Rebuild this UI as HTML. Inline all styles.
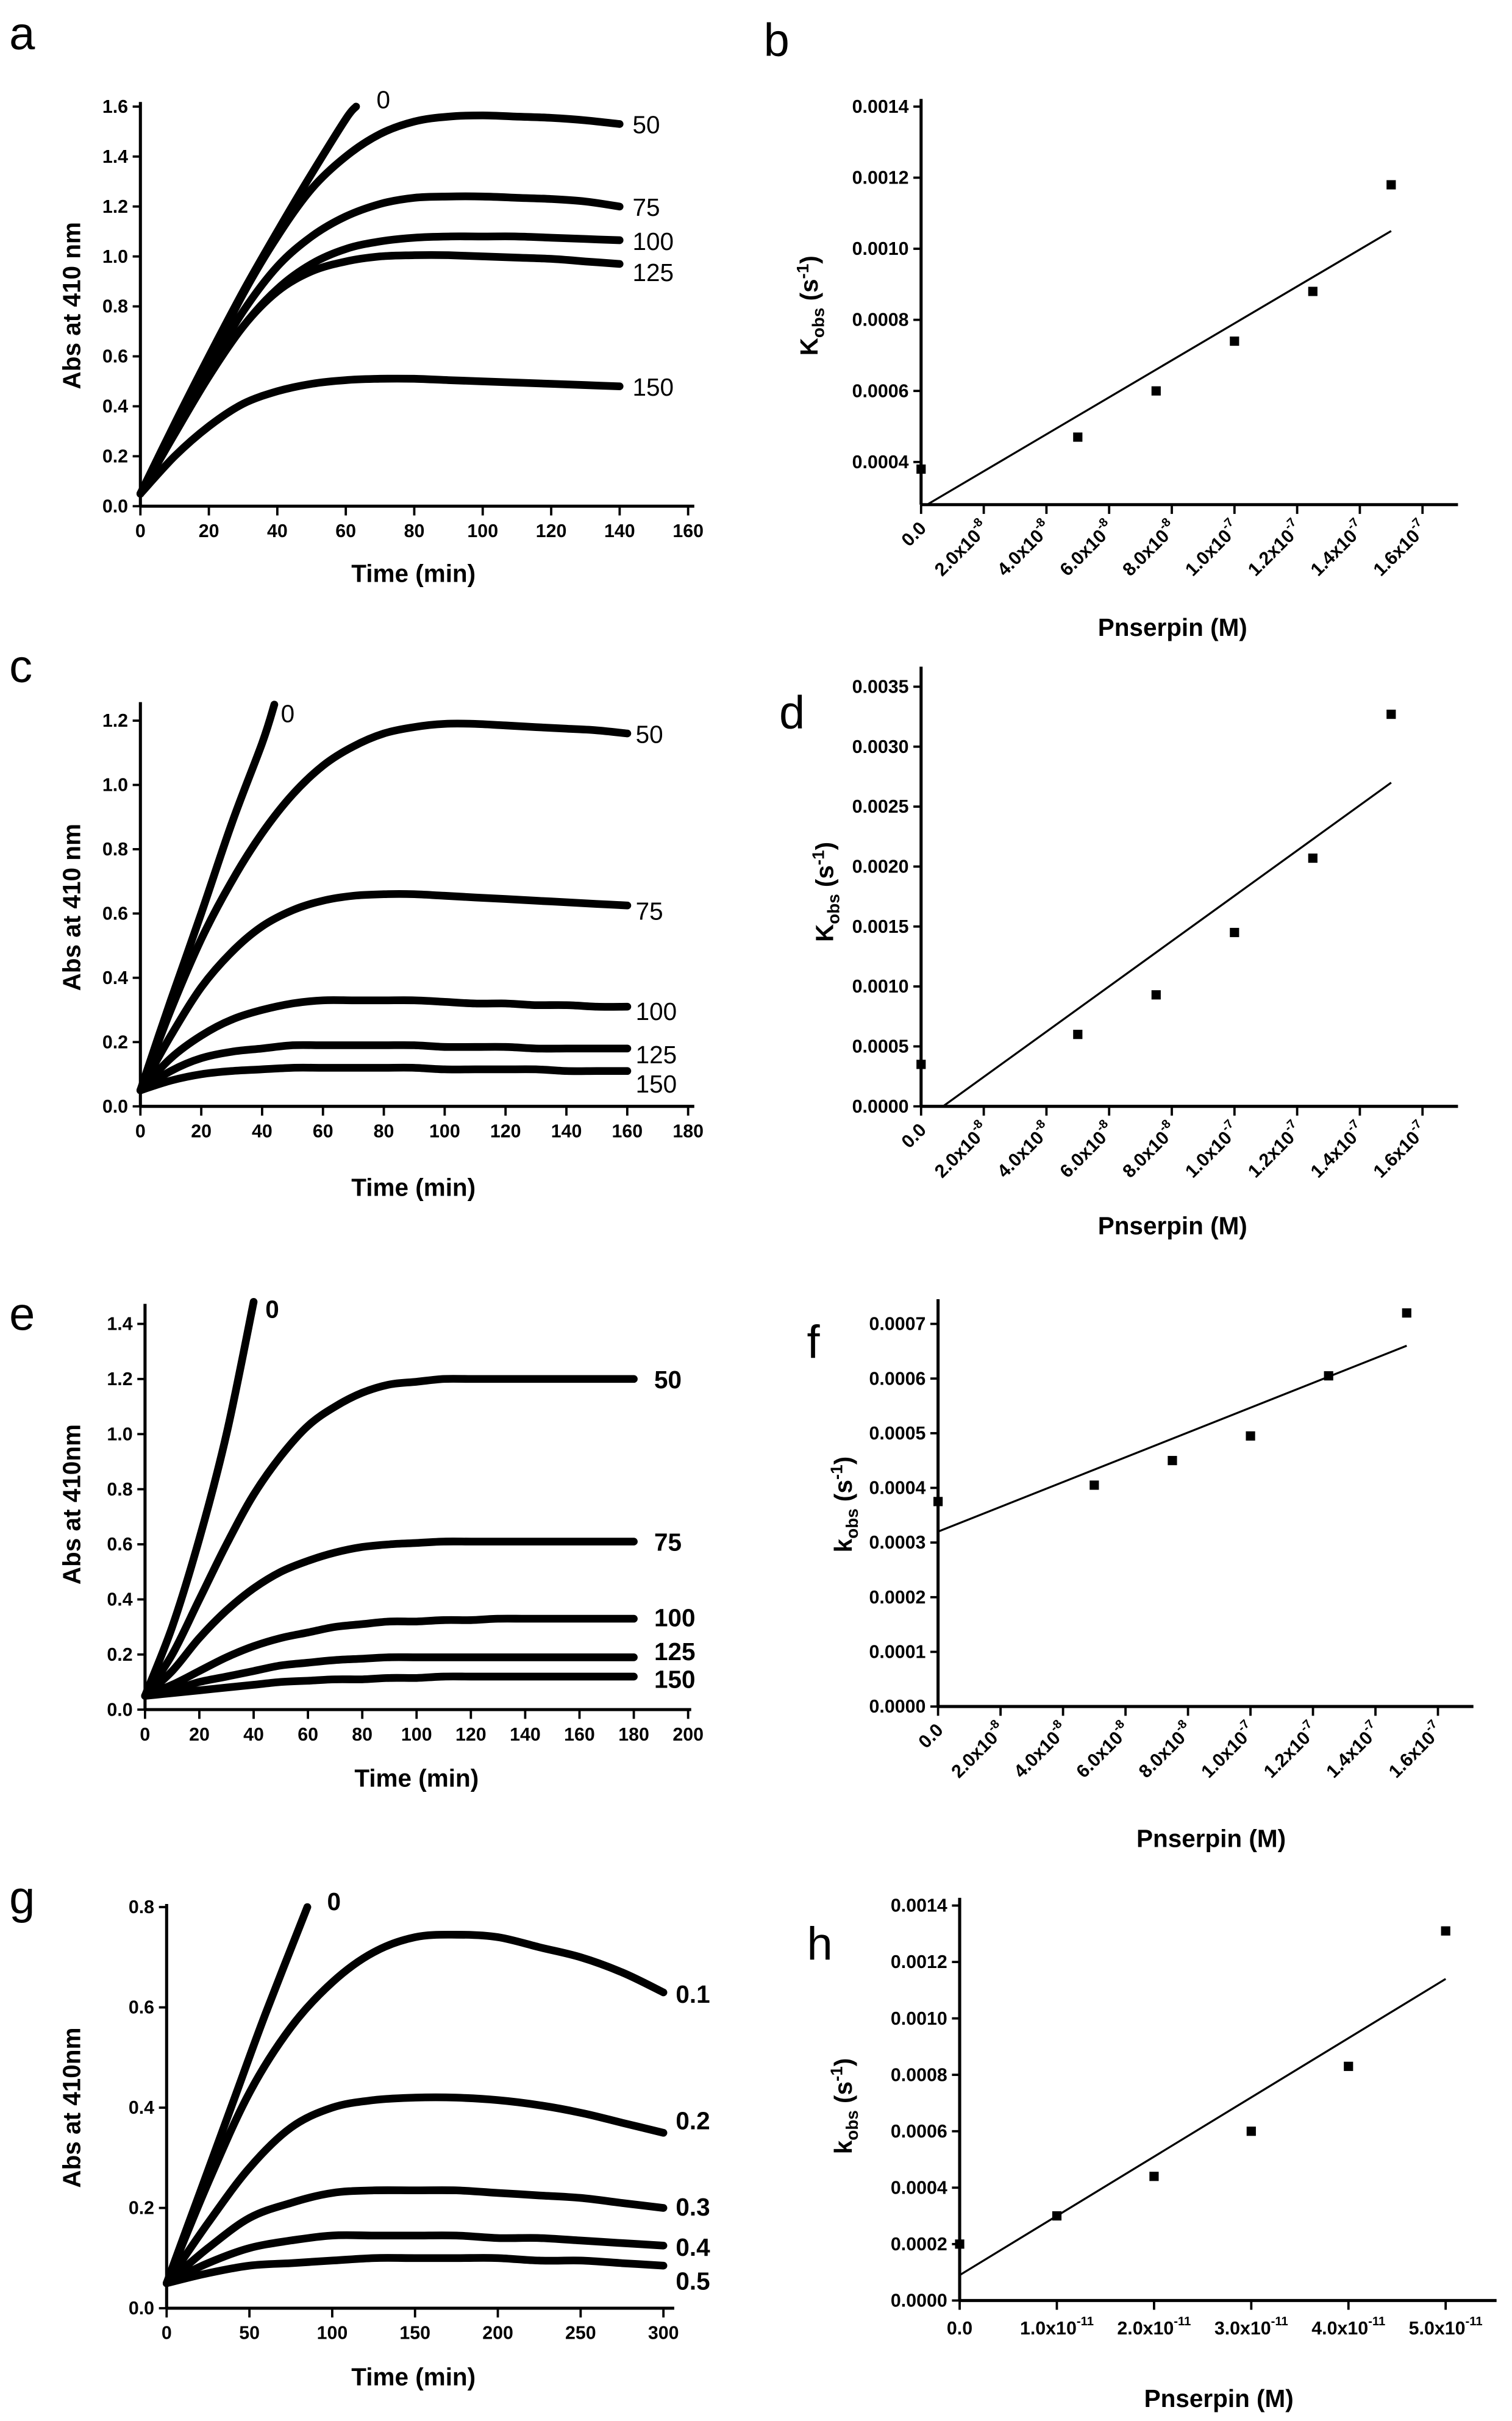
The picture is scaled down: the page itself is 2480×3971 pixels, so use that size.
<!DOCTYPE html>
<html><head><meta charset="utf-8"><style>
html,body{margin:0;padding:0;background:#fff}
svg{display:block}
text{font-family:"Liberation Sans",Arial,sans-serif;fill:#000}
.tk{font-size:12px;font-weight:bold}
.at{font-size:16px;font-weight:bold}
.pl{font-size:30px}
.cl{font-size:16px}
</style></head><body>
<svg id="fig" width="2480" height="3971" viewBox="0 0 980 1569" xmlns="http://www.w3.org/2000/svg"></svg>
<script>
// ---- Panel a data ----
const aTimes0=[0,10,20,30,40,50,60,63];
const a0=[0.05,0.33,0.6,0.86,1.1,1.33,1.55,1.6];
const aTimes=[0,10,20,30,40,50,60,70,80,90,100,110,120,130,140];
const a50=[0.05,0.3,0.58,0.85,1.08,1.27,1.4,1.49,1.54,1.56,1.565,1.56,1.555,1.545,1.53];
const a75=[0.05,0.3,0.55,0.78,0.96,1.08,1.16,1.21,1.235,1.24,1.24,1.235,1.23,1.22,1.2];
const a100=[0.05,0.29,0.52,0.72,0.87,0.97,1.03,1.06,1.075,1.08,1.08,1.08,1.075,1.07,1.065];
const a125=[0.05,0.29,0.52,0.72,0.86,0.94,0.98,1.0,1.005,1.005,1.0,0.995,0.99,0.98,0.97];
const a150=[0.05,0.2,0.32,0.41,0.46,0.49,0.505,0.51,0.51,0.505,0.5,0.495,0.49,0.485,0.48];
const aXTicks=[0,20,40,60,80,100,120,140,160];
const aYTicks=[0,0.2,0.4,0.6,0.8,1.0,1.2,1.4,1.6];
// ---- Panel b data ----
const bX=[0,5e-8,7.5e-8,1e-7,1.25e-7,1.5e-7];
const bY=[0.00038,0.00047,0.0006,0.00074,0.00088,0.00118];
const bFit=[0.00027,5200];
const bYTicks=[0.0004,0.0006,0.0008,0.0010,0.0012,0.0014];
// ---- Panel c data ----
const cTimes0=[0,10,20,30,40,44];
const c0=[0.05,0.33,0.6,0.88,1.13,1.25];
const cTimes=[0,10,20,30,40,50,60,70,80,90,100,110,120,130,140,150,160];
const c50=[0.05,0.3,0.52,0.7,0.85,0.97,1.06,1.12,1.16,1.18,1.19,1.19,1.185,1.18,1.175,1.17,1.16];
const c75=[0.05,0.22,0.37,0.48,0.56,0.61,0.64,0.655,0.66,0.66,0.655,0.65,0.645,0.64,0.635,0.63,0.625];
const c100=[0.05,0.15,0.22,0.27,0.3,0.32,0.33,0.33,0.33,0.33,0.325,0.32,0.32,0.315,0.315,0.31,0.31];
const c125=[0.05,0.11,0.15,0.17,0.18,0.19,0.19,0.19,0.19,0.19,0.185,0.185,0.185,0.18,0.18,0.18,0.18];
const c150=[0.05,0.08,0.1,0.11,0.115,0.12,0.12,0.12,0.12,0.12,0.115,0.115,0.115,0.115,0.11,0.11,0.11];
const cXTicks=[0,20,40,60,80,100,120,140,160,180];
const cYTicks=[0,0.2,0.4,0.6,0.8,1.0,1.2];
// ---- Panel d data ----
const dX=[0,5e-8,7.5e-8,1e-7,1.25e-7,1.5e-7];
const dY=[0.00035,0.0006,0.00093,0.00145,0.00207,0.00327];
const dFit=[-0.000132,18880];
const dYTicks=[0,0.0005,0.0010,0.0015,0.0020,0.0025,0.0030,0.0035];
// ---- Panel e data ----
const eTimes0=[0,10,20,30,40];
const e0=[0.05,0.3,0.62,1.0,1.48];
const eTimes=[0,10,20,30,40,50,60,70,80,90,100,110,120,130,140,150,160,170,180];
const e50=[0.05,0.2,0.4,0.6,0.78,0.92,1.03,1.1,1.15,1.18,1.19,1.2,1.2,1.2,1.2,1.2,1.2,1.2,1.2];
const e75=[0.05,0.14,0.26,0.36,0.44,0.5,0.54,0.57,0.59,0.6,0.605,0.61,0.61,0.61,0.61,0.61,0.61,0.61,0.61];
const e100=[0.05,0.09,0.14,0.19,0.23,0.26,0.28,0.3,0.31,0.32,0.32,0.325,0.325,0.33,0.33,0.33,0.33,0.33,0.33];
const e125=[0.05,0.07,0.1,0.12,0.14,0.16,0.17,0.18,0.185,0.19,0.19,0.19,0.19,0.19,0.19,0.19,0.19,0.19,0.19];
const e150=[0.05,0.06,0.07,0.08,0.09,0.1,0.105,0.11,0.11,0.115,0.115,0.12,0.12,0.12,0.12,0.12,0.12,0.12,0.12];
const eXTicks=[0,20,40,60,80,100,120,140,160,180,200];
const eYTicks=[0,0.2,0.4,0.6,0.8,1.0,1.2,1.4];
// ---- Panel f data ----
const fX=[0,5e-8,7.5e-8,1e-7,1.25e-7,1.5e-7];
const fY=[0.000375,0.000405,0.00045,0.000495,0.000605,0.00072];
const fFit=[0.00032,2267];
const fYTicks=[0,0.0001,0.0002,0.0003,0.0004,0.0005,0.0006,0.0007];
// ---- Panel g data ----
const gTimes0=[0,20,40,60,85];
const g0=[0.05,0.23,0.41,0.59,0.8];
const gTimes=[0,25,50,75,100,125,150,175,200,225,250,275,300];
const g01=[0.05,0.25,0.43,0.56,0.65,0.71,0.74,0.745,0.74,0.72,0.7,0.67,0.63];
const g02=[0.05,0.17,0.28,0.36,0.4,0.415,0.42,0.42,0.415,0.405,0.39,0.37,0.35];
const g03=[0.05,0.12,0.18,0.21,0.23,0.235,0.235,0.235,0.23,0.225,0.22,0.21,0.2];
const g04=[0.05,0.09,0.12,0.135,0.145,0.145,0.145,0.145,0.14,0.14,0.135,0.13,0.125];
const g05=[0.05,0.07,0.085,0.09,0.095,0.1,0.1,0.1,0.1,0.095,0.095,0.09,0.085];
const gXTicks=[0,50,100,150,200,250,300];
const gYTicks=[0,0.2,0.4,0.6,0.8];
// ---- Panel h data ----
const hX=[0,1e-11,2e-11,3e-11,4e-11,5e-11];
const hY=[0.0002,0.0003,0.00044,0.0006,0.00083,0.00131];
const hFit=[0.00009,2.1e7];
const hYTicks=[0,0.0002,0.0004,0.0006,0.0008,0.0010,0.0012,0.0014];
const hXTicks=[0,1e-11,2e-11,3e-11,4e-11,5e-11];
const hXLabels=[['0.0'],['1.0x10','-11'],['2.0x10','-11'],['3.0x10','-11'],['4.0x10','-11'],['5.0x10','-11']];

const NS="http://www.w3.org/2000/svg";
const fig=document.getElementById('fig');
function mk(tag,attrs,parent,txt){const e=document.createElementNS(NS,tag);for(const k in attrs)e.setAttribute(k,attrs[k]);if(txt!==undefined)e.textContent=txt;(parent||fig).appendChild(e);return e;}
function scale(d0,d1,p0,p1){return v=>p0+(v-d0)*(p1-p0)/(d1-d0);}
function smooth(pts){
  let d='M'+pts[0][0].toFixed(1)+','+pts[0][1].toFixed(1);
  for(let i=0;i<pts.length-1;i++){
    const p0=pts[i-1]||pts[i],p1=pts[i],p2=pts[i+1],p3=pts[i+2]||p2;
    const c1=[p1[0]+(p2[0]-p0[0])/6,p1[1]+(p2[1]-p0[1])/6];
    const c2=[p2[0]-(p3[0]-p1[0])/6,p2[1]-(p3[1]-p1[1])/6];
    d+=`C${c1[0].toFixed(1)},${c1[1].toFixed(1)} ${c2[0].toFixed(1)},${c2[1].toFixed(1)} ${p2[0].toFixed(1)},${p2[1].toFixed(1)}`;
  }
  return d;
}

function axes(g,c){
  const xl=mk('line',{x1:c.px0,y1:c.py0,x2:c.axRight,y2:c.py0,stroke:'#000','stroke-width':2},g);
  
  const yl=mk('line',{x1:c.px0,y1:c.py0,x2:c.px0,y2:c.axTop,stroke:'#000','stroke-width':2},g);
  
  c.yTicks.forEach((v,i)=>{const y=c.sy(v);
    mk('line',{x1:c.px0-5,y1:y,x2:c.px0,y2:y,stroke:'#000','stroke-width':1.5},g);
    const t=mk('text',{x:c.px0-8,y:y+4,'text-anchor':'end',class:'tk'},g,c.yFmt(v));
    });
  c.xTicks.forEach((v,i)=>{const x=c.sx(v);
    mk('line',{x1:x,y1:c.py0,x2:x,y2:c.py0+6,stroke:'#000','stroke-width':1.5},g);
    let t;
    if(c.xLabs){
      if(c.rot) t=mk('text',{x:x+4,y:c.py0+16,'text-anchor':'end',class:'tk',transform:`rotate(-45 ${x+4} ${c.py0+16})`},g);
      else t=mk('text',{x:x,y:c.py0+22,'text-anchor':'middle',class:'tk','font-size':'11px'},g);
      const lab=c.xLabs[i];
      t.appendChild(document.createTextNode(lab[0]));
      if(lab[1]) mk('tspan',{'font-size':'8px',dy:-6},t,lab[1]);
    } else t=mk('text',{x:x,y:c.py0+20,'text-anchor':'middle',class:'tk'},g,String(v));
    });
  const xt=mk('text',{x:c.xtx,y:c.xty,'text-anchor':'middle',class:'at'},g,c.xTitle);
  
  const yt=mk('text',{x:c.ytx,y:c.yty,'text-anchor':'middle',class:'at',transform:`rotate(-90 ${c.ytx} ${c.yty})`},g);
  if(c.kobs){yt.appendChild(document.createTextNode(c.kobs));mk('tspan',{'font-size':'11px',dy:4},yt,'obs');mk('tspan',{dy:-4},yt,' (s');mk('tspan',{'font-size':'11px',dy:-6},yt,'-1');mk('tspan',{dy:6},yt,')');}
  else yt.textContent=c.yTitle;
  
  const pl=mk('text',{x:c.lx,y:c.ly,class:'pl'},g,c.letter);
  
}

function kinetic(c,series){
  const g=mk('g',{});
  c.sx=scale(c.xmin,c.xmax,c.px0,c.px1);c.sy=scale(c.ymin,c.ymax,c.py0,c.py1);
  c.yFmt=v=>v.toFixed(1);
  axes(g,c);
  series.forEach(s=>{
    const pts=s.t.map((t,i)=>[c.sx(t),c.sy(s.v[i])]);
    const p=mk('path',{d:smooth(pts),fill:'none',stroke:'#000','stroke-width':5,'stroke-linejoin':'round','stroke-linecap':'round'},g);
    
    const last=s.v.length-1;
    const lx=s.lx!==undefined?s.lx:c.sx(s.t[last])+10;
    const ly=(s.ly!==undefined?s.ly:c.sy(s.v[last]))+6;
    const t=mk('text',{x:lx,y:ly,class:'cl','font-weight':c.bold?'bold':'normal'},g,s.name);
    
  });
}

function kobs(c,xs,ys,fit){
  const g=mk('g',{});
  c.sx=scale(c.xmin,c.xmax,c.px0,c.px1);c.sy=scale(c.ymin,c.ymax,c.py0,c.py1);
  c.yFmt=v=>v.toFixed(4);
  axes(g,c);
  const cl=mk('clipPath',{id:'clip'+c.letter},g);
  mk('rect',{x:c.px0,y:c.axTop,width:c.axRight-c.px0,height:c.py0-c.axTop},cl);
  const f=v=>fit[0]+fit[1]*v;
  const fl=mk('line',{x1:c.sx(c.fx0),y1:c.sy(f(c.fx0)),x2:c.sx(c.fx1),y2:c.sy(f(c.fx1)),stroke:'#000','stroke-width':1.3,'clip-path':`url(#clip${c.letter})`},g);
  
  xs.forEach((x,i)=>{const r=mk('rect',{x:c.sx(x)-3,y:c.sy(ys[i])-3,width:6,height:6,fill:'#000'},g);
    });
}

const labs8=[['0.0'],['2.0x10','-8'],['4.0x10','-8'],['6.0x10','-8'],['8.0x10','-8'],['1.0x10','-7'],['1.2x10','-7'],['1.4x10','-7'],['1.6x10','-7']];
const t8=[0,2e-8,4e-8,6e-8,8e-8,1e-7,1.2e-7,1.4e-7,1.6e-7];

kinetic({letter:'a',lx:6,ly:32,px0:91,px1:446,xmin:0,xmax:160,py0:328,py1:69,ymin:0,ymax:1.6,axRight:450,axTop:66,
  xTicks:aXTicks,yTicks:aYTicks,xTitle:'Time (min)',xtx:268,xty:377,yTitle:'Abs at 410 nm',ytx:52,yty:198},
 [{name:'0',t:aTimes0,v:a0,lx:244,ly:64},{name:'50',t:aTimes,v:a50,lx:410},{name:'75',t:aTimes,v:a75,lx:410},
  {name:'100',t:aTimes,v:a100,lx:410,ly:156},{name:'125',t:aTimes,v:a125,lx:410,ly:176},{name:'150',t:aTimes,v:a150,lx:410}]);
kobs({letter:'b',lx:495,ly:36,px0:597,px1:922,xmin:0,xmax:1.6e-7,py0:327,py1:69,ymin:0.00028,ymax:0.0014,axRight:945,axTop:64,
  xTicks:t8,xLabs:labs8,rot:true,yTicks:bYTicks,xTitle:'Pnserpin (M)',xtx:760,xty:412,kobs:'K',ytx:530,yty:198,fx0:0,fx1:1.5e-7},bX,bY,bFit);

kinetic({letter:'c',lx:6,ly:442,px0:91,px1:446,xmin:0,xmax:180,py0:717,py1:467,ymin:0,ymax:1.2,axRight:450,axTop:455,
  xTicks:cXTicks,yTicks:cYTicks,xTitle:'Time (min)',xtx:268,xty:775,yTitle:'Abs at 410 nm',ytx:52,yty:588},
 [{name:'0',t:cTimes0,v:c0,lx:182,ly:462},{name:'50',t:cTimes,v:c50,lx:412},{name:'75',t:cTimes,v:c75,lx:412,ly:590},
  {name:'100',t:cTimes,v:c100,lx:412,ly:655},{name:'125',t:cTimes,v:c125,lx:412,ly:683},{name:'150',t:cTimes,v:c150,lx:412,ly:702}]);
kobs({letter:'d',lx:505,ly:472,px0:597,px1:922,xmin:0,xmax:1.6e-7,py0:717,py1:445,ymin:0,ymax:0.0035,axRight:945,axTop:432,
  xTicks:t8,xLabs:labs8,rot:true,yTicks:dYTicks,xTitle:'Pnserpin (M)',xtx:760,xty:800,kobs:'K',ytx:540,yty:578,fx0:0,fx1:1.5e-7},dX,dY,dFit);

kinetic({letter:'e',lx:6,ly:862,bold:true,px0:94,px1:446,xmin:0,xmax:200,py0:1108,py1:858,ymin:0,ymax:1.4,axRight:448,axTop:845,
  xTicks:eXTicks,yTicks:eYTicks,xTitle:'Time (min)',xtx:270,xty:1158,yTitle:'Abs at 410nm',ytx:52,yty:975},
 [{name:'0',t:eTimes0,v:e0,lx:172,ly:848},{name:'50',t:eTimes,v:e50,lx:424},{name:'75',t:eTimes,v:e75,lx:424},
  {name:'100',t:eTimes,v:e100,lx:424,ly:1048},{name:'125',t:eTimes,v:e125,lx:424,ly:1070},{name:'150',t:eTimes,v:e150,lx:424,ly:1088}]);
kobs({letter:'f',lx:523,ly:880,px0:608,px1:932,xmin:0,xmax:1.6e-7,py0:1106,py1:858,ymin:0,ymax:0.0007,axRight:955,axTop:842,
  xTicks:t8,xLabs:labs8,rot:true,yTicks:fYTicks,xTitle:'Pnserpin (M)',xtx:785,xty:1197,kobs:'k',ytx:552,yty:975,fx0:0,fx1:1.5e-7},fX,fY,fFit);

kinetic({letter:'g',lx:6,ly:1240,bold:true,px0:108,px1:430,xmin:0,xmax:300,py0:1496,py1:1236,ymin:0,ymax:0.8,axRight:437,axTop:1234,
  xTicks:gXTicks,yTicks:gYTicks,xTitle:'Time (min)',xtx:268,xty:1546,yTitle:'Abs at 410nm',ytx:52,yty:1366},
 [{name:'0',t:gTimes0,v:g0,lx:212,ly:1232},{name:'0.1',t:gTimes,v:g01,lx:438,ly:1292},{name:'0.2',t:gTimes,v:g02,lx:438,ly:1374},
  {name:'0.3',t:gTimes,v:g03,lx:438,ly:1430},{name:'0.4',t:gTimes,v:g04,lx:438,ly:1456},{name:'0.5',t:gTimes,v:g05,lx:438,ly:1478}]);
kobs({letter:'h',lx:523,ly:1270,px0:622,px1:937,xmin:0,xmax:5e-11,py0:1491,py1:1235,ymin:0,ymax:0.0014,axRight:970,axTop:1230,
  xTicks:hXTicks,xLabs:hXLabels,rot:false,
  yTicks:hYTicks,xTitle:'Pnserpin (M)',xtx:790,xty:1560,kobs:'k',ytx:552,yty:1365,fx0:0,fx1:5e-11},hX,hY,hFit);
</script>
</body></html>
